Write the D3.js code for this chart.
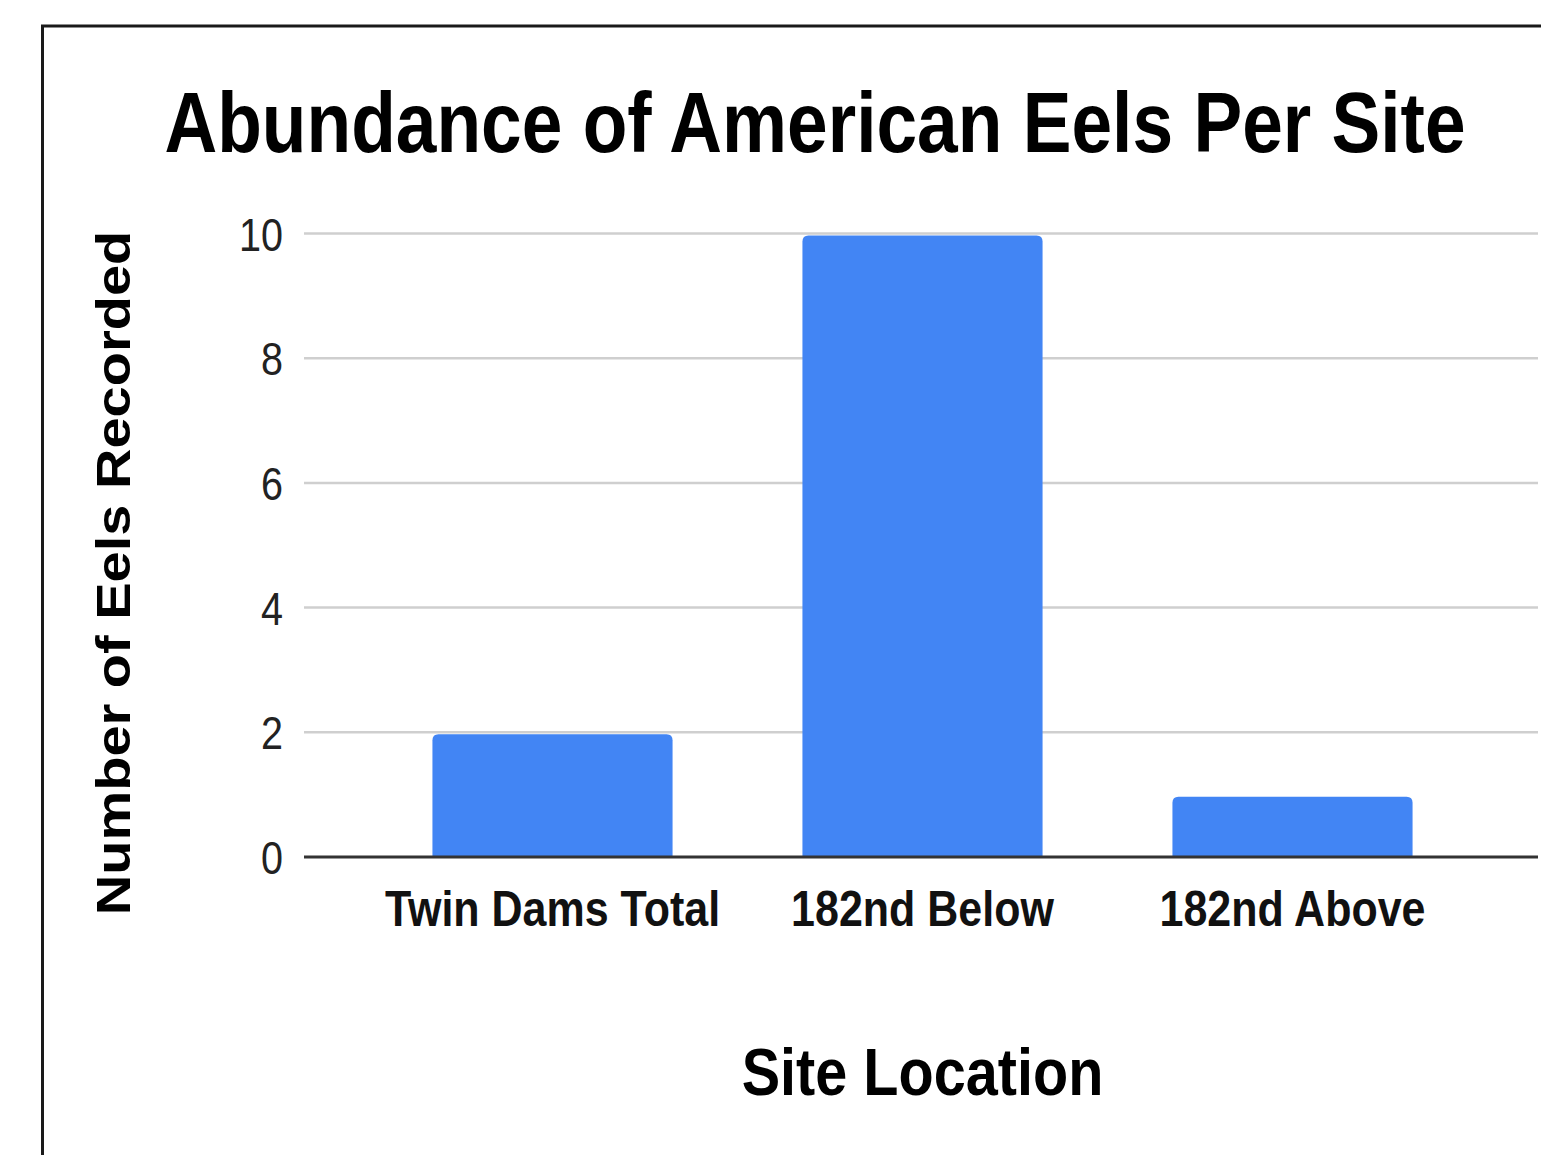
<!DOCTYPE html>
<html>
<head>
<meta charset="utf-8">
<script src="https://cdn.jsdelivr.net/npm/d3@7"></script>
<style>
  html, body { margin: 0; padding: 0; background: #fff; }
  svg { display: block; }
  text { font-family: "Liberation Sans", Arial, sans-serif; }
</style>
</head>
<body>
<svg id="chart" width="1541" height="1155"></svg>
<script>
// Eel counts per survey site
const sites = ["Twin Dams Total", "182nd Below", "182nd Above"];
const eelCounts = [2, 10, 1];
const yTicks = [0, 2, 4, 6, 8, 10];

const chartTitle = "Abundance of American Eels Per Site";
const xTitle = "Site Location";
const yTitle = "Number of Eels Recorded";

const W = 1541, H = 1155;
const squeeze = 0.86;           // horizontal compression of the lettering
const plot = { left: 304, right: 1538, top: 233.5, bottom: 857 };

const svg = d3.select("#chart");

// outer frame (runs off the right and bottom edges)
svg.append("rect")
  .attr("x", 42.5).attr("y", 26)
  .attr("width", W + 20).attr("height", H + 20)
  .attr("fill", "none")
  .attr("stroke", "#1a1a1a")
  .attr("stroke-width", 3);

const x = d3.scaleBand()
  .domain(sites)
  .range([367.5, 1477.5])
  .paddingInner(0.351)
  .paddingOuter(0.1755);

const y = d3.scaleLinear()
  .domain([0, 10])
  .range([plot.bottom, plot.top]);

// gridlines
svg.append("g")
  .selectAll("line")
  .data(yTicks.filter(t => t !== 0))
  .join("line")
  .attr("x1", plot.left).attr("x2", plot.right)
  .attr("y1", d => y(d)).attr("y2", d => y(d))
  .attr("stroke", "#cfcfcf")
  .attr("stroke-width", 2.5);

// y axis tick labels
const yAxis = d3.axisLeft(y).tickValues(yTicks).tickSize(0).tickPadding(0);
const gy = svg.append("g")
  .attr("transform", `translate(${plot.left},0)`)
  .call(yAxis);
gy.select(".domain").remove();
gy.selectAll(".tick text")
  .attr("x", -21 / squeeze)
  .attr("dy", "0.36em")
  .attr("transform", `scale(${squeeze},1)`)
  .style("font-family", "'Liberation Sans', Arial, sans-serif")
  .style("font-size", "46px")
  .attr("fill", "#222");

// bars with rounded tops
function topRoundedBar(x0, y0, w, h, r) {
  r = Math.min(r, h, w / 2);
  return `M${x0},${y0 + h}` +
    `V${y0 + r}` +
    `Q${x0},${y0} ${x0 + r},${y0}` +
    `H${x0 + w - r}` +
    `Q${x0 + w},${y0} ${x0 + w},${y0 + r}` +
    `V${y0 + h}Z`;
}

svg.append("g")
  .selectAll("path")
  .data(sites.map((s, i) => ({ site: s, value: eelCounts[i] })))
  .join("path")
  .attr("d", d => topRoundedBar(x(d.site), y(d.value) + 2, x.bandwidth(), y(0) - y(d.value) - 2, 6))
  .attr("fill", "#4285f4");

// baseline
svg.append("line")
  .attr("x1", plot.left).attr("x2", plot.right)
  .attr("y1", y(0)).attr("y2", y(0))
  .attr("stroke", "#333")
  .attr("stroke-width", 3);

// x axis category labels
const xAxis = d3.axisBottom(x).tickSize(0).tickPadding(0);
const gx = svg.append("g")
  .attr("transform", `translate(0,${y(0)})`)
  .call(xAxis);
gx.select(".domain").remove();
gx.selectAll(".tick text")
  .attr("y", 69)
  .attr("dy", 0)
  .attr("transform", `scale(${squeeze},1)`)
  .style("font-family", "'Liberation Sans', Arial, sans-serif")
  .style("font-size", "50px")
  .style("font-weight", "bold")
  .attr("fill", "#111");

// chart title
svg.append("g")
  .attr("transform", `translate(815,152) scale(${squeeze},1)`)
  .append("text")
  .attr("text-anchor", "middle")
  .style("font-size", "85px")
  .style("font-weight", "bold")
  .attr("fill", "#000")
  .text(chartTitle);

// x axis title
svg.append("g")
  .attr("transform", `translate(${(x.range()[0] + x.range()[1]) / 2},1095) scale(${squeeze},1)`)
  .append("text")
  .attr("text-anchor", "middle")
  .style("font-size", "67px")
  .style("font-weight", "bold")
  .attr("fill", "#000")
  .text(xTitle);

// y axis title
svg.append("g")
  .attr("transform", `translate(129.5,573) rotate(-90) scale(1,${squeeze})`)
  .append("text")
  .attr("text-anchor", "middle")
  .style("font-size", "56px")
  .style("font-weight", "bold")
  .attr("fill", "#000")
  .text(yTitle);
</script>
</body>
</html>
